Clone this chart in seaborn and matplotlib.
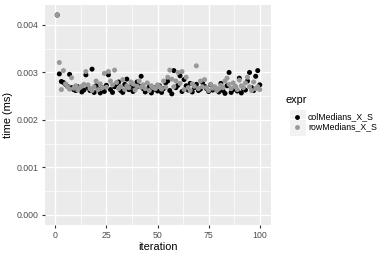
import numpy as np
import pandas as pd
import seaborn as sns
import matplotlib
matplotlib.use("Agg")
import matplotlib.pyplot as plt
from matplotlib.patches import Rectangle
from matplotlib.lines import Line2D

col_medians = [
    0.00421, 0.00297, 0.00281, 0.00279, 0.00275, 0.00271, 0.00296, 0.00268, 0.00264, 0.00262,
    0.00270, 0.00266, 0.00259, 0.00263, 0.00295, 0.00268, 0.00262, 0.00307, 0.00258, 0.00272,
    0.00265, 0.00257, 0.00268, 0.00260, 0.00273, 0.00295, 0.00264, 0.00258, 0.00270, 0.00276,
    0.00280, 0.00262, 0.00258, 0.00275, 0.00286, 0.00264, 0.00270, 0.00260, 0.00266, 0.00280,
    0.00271, 0.00292, 0.00266, 0.00259, 0.00263, 0.00270, 0.00257, 0.00264, 0.00268, 0.00261,
    0.00272, 0.00258, 0.00266, 0.00278, 0.00282, 0.00262, 0.00255, 0.00304, 0.00268, 0.00273,
    0.00293, 0.00260, 0.00285, 0.00272, 0.00263, 0.00277, 0.00259, 0.00268, 0.00275, 0.00262,
    0.00265, 0.00279, 0.00271, 0.00266, 0.00260, 0.00274, 0.00263, 0.00268, 0.00264, 0.00259,
    0.00277, 0.00262, 0.00256, 0.00272, 0.00300, 0.00258, 0.00264, 0.00270, 0.00261, 0.00288,
    0.00257, 0.00266, 0.00263, 0.00282, 0.00300, 0.00268, 0.00262, 0.00292, 0.00304, 0.00274,
]
row_medians = [
    0.00421, 0.00321, 0.00264, 0.00304, 0.00276, 0.00270, 0.00265, 0.00289, 0.00267, 0.00272,
    0.00263, 0.00268, 0.00271, 0.00275, 0.00302, 0.00274, 0.00266, 0.00262, 0.00270, 0.00282,
    0.00264, 0.00276, 0.00268, 0.00298, 0.00269, 0.00302, 0.00282, 0.00274, 0.00305, 0.00279,
    0.00266, 0.00270, 0.00285, 0.00264, 0.00272, 0.00268, 0.00280, 0.00276, 0.00263, 0.00271,
    0.00282, 0.00269, 0.00274, 0.00266, 0.00278, 0.00262, 0.00272, 0.00268, 0.00266, 0.00274,
    0.00270, 0.00265, 0.00282, 0.00269, 0.00290, 0.00305, 0.00286, 0.00270, 0.00282, 0.00300,
    0.00277, 0.00302, 0.00264, 0.00290, 0.00268, 0.00262, 0.00276, 0.00271, 0.00314, 0.00266,
    0.00282, 0.00270, 0.00285, 0.00268, 0.00262, 0.00275, 0.00267, 0.00270, 0.00262, 0.00266,
    0.00273, 0.00268, 0.00282, 0.00288, 0.00275, 0.00266, 0.00278, 0.00270, 0.00264, 0.00284,
    0.00272, 0.00268, 0.00278, 0.00290, 0.00270, 0.00262, 0.00280, 0.00266, 0.00270, 0.00264,
]
expr_names = ["colMedians_X_S", "rowMedians_X_S"]
x_ticks = [0, 25, 50, 75, 100]
y_ticks = [0.000, 0.001, 0.002, 0.003, 0.004]
y_tick_labels = ["0.000", "0.001", "0.002", "0.003", "0.004"]
colors = {"colMedians_X_S": "#000000", "rowMedians_X_S": "#999999"}

iters = list(range(1, 101))
df = pd.DataFrame({
    "iteration": iters + iters,
    "time": col_medians + row_medians,
    "expr": [expr_names[0]] * 100 + [expr_names[1]] * 100,
})

plt.rcParams["font.family"] = ["Liberation Sans", "DejaVu Sans"]

W, H = 390, 260
fig = plt.figure(figsize=(W / 100, H / 100), dpi=100)
L, R, T, B = 44.5, 270.5, 5, 225
ax = fig.add_axes([L / W, 1 - B / H, (R - L) / W, (B - T) / H])
ax.set_facecolor("#EBEBEB")

sns.scatterplot(data=df, x="iteration", y="time", hue="expr", palette=colors,
                s=13, linewidth=0, ax=ax, legend=False, zorder=3)

ymin, ymax = 0.0, max(col_medians + row_medians)
yr = ymax - ymin
ax.set_ylim(ymin - 0.05 * yr, ymax + 0.05 * yr)
ax.set_xlim(-5.25, 105.25)

ax.set_xticks(x_ticks)
ax.set_yticks(y_ticks)
ax.set_yticklabels(y_tick_labels)
ax.set_xticks([12.5, 37.5, 62.5, 87.5], minor=True)
ax.set_yticks([0.0005, 0.0015, 0.0025, 0.0035], minor=True)
ax.grid(which="major", color="white", linewidth=1.0)
ax.grid(which="minor", color="white", linewidth=0.5)
ax.set_axisbelow(True)
for s in ax.spines.values():
    s.set_visible(False)
ax.tick_params(which="major", length=2.5, width=0.8, color="#333333",
               labelsize=6.3, labelcolor="#4D4D4D", pad=1.5)
ax.tick_params(which="minor", length=0)
ax.set_xlabel("iteration", fontsize=7.9, color="black", labelpad=2)
ax.set_ylabel("time (ms)", fontsize=7.9, color="black", labelpad=3)

# legend
fig.text(286 / W, 1 - 100 / H, "expr", fontsize=7.9, va="center", ha="left")
for i, name in enumerate(expr_names):
    cy = 117 + i * 10
    fig.patches.append(Rectangle(((288.5) / W, 1 - (cy + 8.5) / H), 17 / W, 17 / H,
                                 transform=fig.transFigure, facecolor="#F2F2F2",
                                 edgecolor="white", linewidth=0.8, zorder=0))
for i, name in enumerate(expr_names):
    cy = 117 + i * 10
    fig.lines.append(Line2D([297 / W], [1 - cy / H], transform=fig.transFigure,
                            marker="o", markersize=3.5, markeredgewidth=0,
                            color=colors[name], linestyle="none"))
    fig.text(308 / W, 1 - cy / H, name, fontsize=6.3, va="center", ha="left")

fig.savefig("out.png", dpi=100)
